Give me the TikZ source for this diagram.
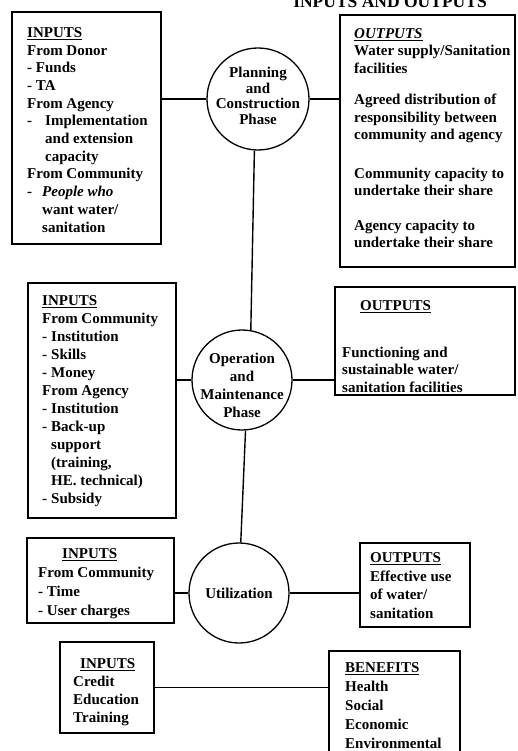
\documentclass[tikz,border=0pt]{standalone}
\usepackage{fontspec}
\setmainfont{Liberation Serif}
\begin{document}
\begin{tikzpicture}[x=1pt,y=-1pt,
  box/.style={draw=black, line width=1.3pt, rectangle, inner sep=0pt},
  phase/.style={draw=black, line width=1.3pt, circle, inner sep=0pt},
  txt/.style={inner sep=0pt, anchor=north west, align=left,
              font=\fontsize{15}{#1}\selectfont\bfseries},
  ctxt/.style={inner sep=0pt, align=center,
              font=\fontsize{15}{#1}\selectfont\bfseries},
  link/.style={line width=1.4pt}]
\useasboundingbox (0,0) rectangle (518,751);

% heading, cut by the top edge of the page
\node[inner sep=0pt, anchor=base, font=\fontsize{17.5}{20}\selectfont\bfseries] (title) at (390,8) {INPUTS AND OUTPUTS};

% boxes
\node[box, minimum width=149pt, minimum height=232pt] (A) at (86.5,128) {};
\node[box, minimum width=175pt, minimum height=252pt] (B) at (427.5,141) {};
\node[box, minimum width=148pt, minimum height=235pt] (C) at (102,400.5) {};
\node[box, minimum width=180pt, minimum height=108pt] (D) at (425,341) {};
\node[box, minimum width=147pt, minimum height=85pt]  (E) at (100.5,580.5) {};
\node[box, minimum width=110pt, minimum height=84pt]  (F) at (415,585) {};
\node[box, minimum width=94pt,  minimum height=91pt]  (G) at (107,687.5) {};
\node[box, minimum width=131pt, minimum height=106pt] (H) at (394.5,704) {};

% phases
\node[phase, minimum size=102pt] (P)    at (258,99)  {};
\node[phase, minimum size=100pt] (OM)   at (242,380) {};
\node[phase, minimum size=100pt] (Util) at (239,593) {};

\node[ctxt=15.5] (Ptext) at (258,96) {Planning\\and\\Construction\\Phase};
\node[ctxt=18] (OMtext) at (242,385) {Operation\\and\\Maintenance\\Phase};
\node[ctxt=18] (Utiltext) at (239,593) {Utilization};

% box texts
\node[txt=17.7] (Atext) at (27,27.2) {\underline{INPUTS}\\
From Donor\\
- Funds\\
- TA\\
From Agency\\
\makebox[18pt][l]{-}Implementation\\
\hspace*{18pt}and extension\\
\hspace*{18pt}capacity\\
From Community\\
\makebox[15pt][l]{-}\textit{People who}\\
\hspace*{15pt}want water/\\
\hspace*{15pt}sanitation};

\node[txt=17.5] (Btext) at (354,28.2) {\underline{\textit{OUTPUTS}}\\
Water supply/Sanitation\\
facilities\\[14pt]
Agreed distribution of\\
responsibility between\\
community and agency\\[21pt]
Community capacity to\\
undertake their share\\[17pt]
Agency capacity to\\
undertake their share};

\node[txt=18] (Ctext) at (42,295.2) {\underline{INPUTS}\\
From Community\\
\makebox[9pt][l]{-}Institution\\
\makebox[9pt][l]{-}Skills\\
\makebox[9pt][l]{-}Money\\
From Agency\\
\makebox[9pt][l]{-}Institution\\
\makebox[9pt][l]{-}Back-up\\
\hspace*{9pt}support\\
\hspace*{9pt}(training,\\
\hspace*{9pt}HE. technical)\\
\makebox[9pt][l]{-}Subsidy};

\node[txt=17.5] (Dtext) at (342,300.2) {\hspace*{18pt}\underline{OUTPUTS}\\[29.5pt]
Functioning and\\
sustainable water/\\
sanitation facilities};

\node[txt=19] (Etext) at (38,548.2) {\hspace*{24pt}\underline{INPUTS}\\
From Community\\
- Time\\
- User charges};

\node[txt=18.7] (Ftext) at (370,552.2) {\underline{OUTPUTS}\\
Effective use\\
of water/\\
sanitation};

\node[txt=18] (Gtext) at (73,658.2) {\hspace*{7pt}\underline{INPUTS}\\
Credit\\
Education\\
Training};

\node[txt=19] (Htext) at (345,662.2) {\underline{BENEFITS}\\
Health\\
Social\\
Economic\\
Environmental};

% connectors
\draw[link] (P.west) -- (P.west -| A.east);
\draw[link] (P.east) -- (P.east -| B.west);
\draw[link] (P.266) -- (OM.80);
\draw[link] (OM.west) -- (OM.west -| C.east);
\draw[link] (OM.east) -- (OM.east -| D.west);
\draw[link] (OM.274) -- (Util.88);
\draw[link] (Util.west) -- (Util.west -| E.east);
\draw[link] (Util.east) -- (Util.east -| F.west);
\draw[link] (G.east) -- (G.east -| H.west);
\end{tikzpicture}
\end{document}
